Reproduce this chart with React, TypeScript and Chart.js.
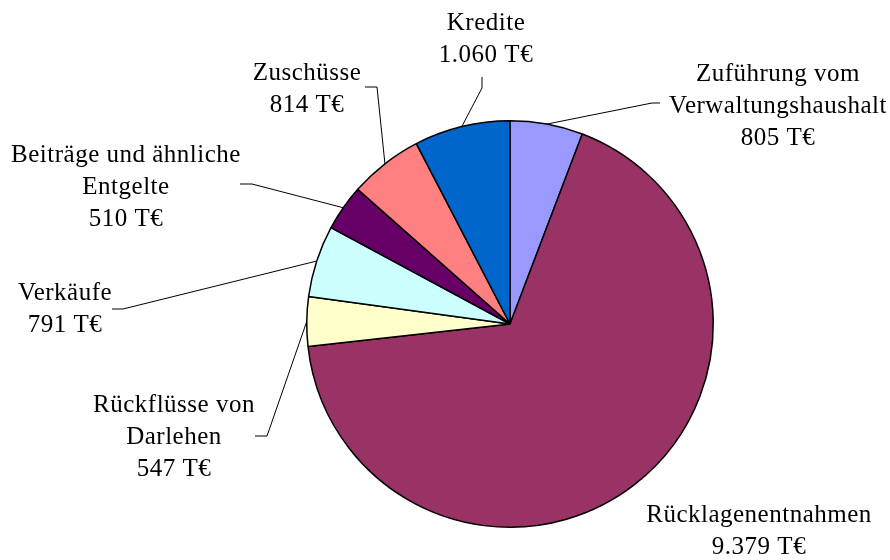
import React, { useEffect, useRef } from "react";
import { Chart, registerables } from "chart.js";

Chart.register(...registerables);

// ---- data ----
const categories = [
  "Zuführung vom Verwaltungshaushalt",
  "Rücklagenentnahmen",
  "Rückflüsse von Darlehen",
  "Verkäufe",
  "Beiträge und ähnliche Entgelte",
  "Zuschüsse",
  "Kredite",
];
const values = [805, 9379, 547, 791, 510, 814, 1060];
const valueLabels = ["805 T€", "9.379 T€", "547 T€", "791 T€", "510 T€", "814 T€", "1.060 T€"];
const labelLines = [
  ["Zuführung vom", "Verwaltungshaushalt"],
  ["Rücklagenentnahmen"],
  ["Rückflüsse von", "Darlehen"],
  ["Verkäufe"],
  ["Beiträge und ähnliche", "Entgelte"],
  ["Zuschüsse"],
  ["Kredite"],
];

// ---- styles / layout ----
const colors = ["#9999FF", "#993366", "#FFFFCC", "#CCFFFF", "#660066", "#FF8080", "#0066CC"];
// label block: center x, first line center y
const labelPos = [
  { x: 778, y: 74 },
  { x: 759, y: 515 },
  { x: 174, y: 405 },
  { x: 65, y: 293 },
  { x: 126, y: 155 },
  { x: 307, y: 73 },
  { x: 486, y: 23 },
];
// leader line: start point near label, elbow point (anchor taken from the arc)
const leaders: ({ s: [number, number]; e: [number, number] } | null)[] = [
  { s: [660, 103], e: [652, 103] },
  null,
  { s: [255, 436], e: [267, 436] },
  { s: [112, 309], e: [123, 309] },
  { s: [240, 184], e: [252, 184] },
  { s: [365, 87], e: [377, 87] },
  { s: [482, 77], e: [482, 88] },
];
const FONT = '25px "Liberation Serif"';
const LINE_H = 32;

const labelPlugin = {
  id: "outerLabels",
  beforeDraw(chart: any) {
    const ctx = chart.ctx;
    ctx.save();
    ctx.fillStyle = "#ffffff";
    ctx.fillRect(0, 0, chart.width, chart.height);
    ctx.restore();
  },
  afterDatasetsDraw(chart: any) {
    const ctx = chart.ctx;
    const meta = chart.getDatasetMeta(0);
    ctx.save();
    ctx.strokeStyle = "#000000";
    ctx.lineWidth = 1;
    meta.data.forEach((arc: any, i: number) => {
      const ld = leaders[i];
      if (!ld) return;
      const mid = (arc.startAngle + arc.endAngle) / 2;
      const ax = arc.x + Math.cos(mid) * arc.outerRadius;
      const ay = arc.y + Math.sin(mid) * arc.outerRadius;
      ctx.beginPath();
      ctx.moveTo(ld.s[0], ld.s[1]);
      ctx.lineTo(ld.e[0], ld.e[1]);
      ctx.lineTo(ax, ay);
      ctx.stroke();
    });
    ctx.fillStyle = "#000000";
    ctx.font = FONT;
    try {
      ctx.letterSpacing = "0.5px";
    } catch (e) {}
    ctx.textAlign = "center";
    ctx.textBaseline = "middle";
    labelLines.forEach((lines, i) => {
      const all = [...lines, valueLabels[i]];
      all.forEach((t, k) => {
        ctx.fillText(t, labelPos[i].x, labelPos[i].y + k * LINE_H);
      });
    });
    ctx.restore();
  },
};

export default function App() {
  const ref = useRef<HTMLCanvasElement | null>(null);
  useEffect(() => {
    if (!ref.current) return;
    const chart = new Chart(ref.current, {
      type: "pie",
      data: {
        labels: categories,
        datasets: [
          {
            data: values,
            backgroundColor: colors,
            borderColor: "#000000",
            borderWidth: 1.5,
          },
        ],
      },
      options: {
        responsive: false,
        animation: false,
        devicePixelRatio: 1,
        layout: { padding: { top: 120, bottom: 32, left: 306, right: 176 } },
        plugins: {
          legend: { display: false },
          tooltip: { enabled: false },
        },
      },
      plugins: [labelPlugin],
    });
    if ((document as any).fonts && (document as any).fonts.load) {
      (document as any).fonts.load(FONT).then(() => {
        try {
          chart.draw();
        } catch (e) {}
      });
    }
    return () => chart.destroy();
  }, []);
  return (
    <div style={{ position: "fixed", left: 0, top: 0, width: 890, height: 560, background: "#fff" }}>
      <canvas ref={ref} width={890} height={560} style={{ width: 890, height: 560, display: "block" }} />
    </div>
  );
}
